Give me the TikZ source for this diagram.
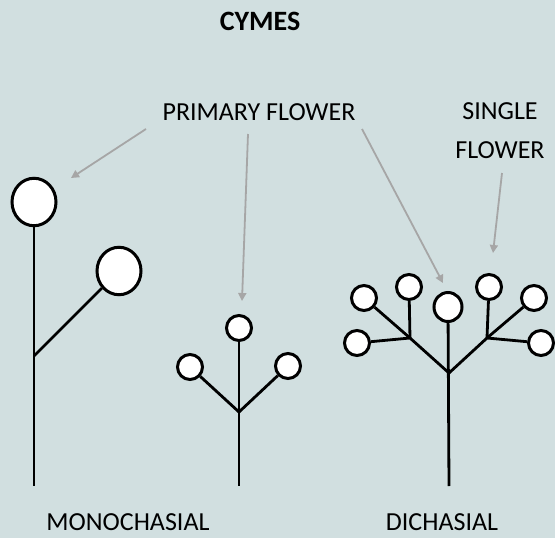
\documentclass[tikz,border=0pt]{standalone}
\usepackage{fontspec}
\setmainfont{Carlito}
\usetikzlibrary{arrows.meta,shapes.geometric}
\definecolor{fundo}{RGB}{209,223,224}
\definecolor{cinza}{RGB}{166,166,166}

\begin{document}
\begin{tikzpicture}[
	x=1pt, y=-1pt,
	txt/.style={inner sep=0pt, font=\fontsize{26}{30}\selectfont},
	flower/.style={draw, ellipse, fill=white, line width=3pt, inner sep=0pt},
	big/.style={minimum width=44pt, minimum height=47.5pt},
	mid/.style={minimum width=28pt, minimum height=29pt},
	small/.style={minimum width=25pt, minimum height=25pt},
	stem/.style={line width=2.8pt},
	seta/.style={-{Triangle[length=8pt,width=8pt]}, cinza, line width=1.8pt}
	]
	\fill[fundo] (0,0) rectangle (555,538);

	\node[txt, font=\fontsize{28}{32}\selectfont\bfseries] (title) at (260,21) {CYMES};
	\node[txt] (primary) at (259,112) {PRIMARY FLOWER};
	\node[txt] (single) at (500,111) {SINGLE};
	\node[txt] (singleb) at (500,150) {FLOWER};
	\node[txt] (mono) at (128,522) {MONOCHASIAL};
	\node[txt] (dich) at (442,522) {DICHASIAL};

	\node[flower, big] (m1) at (34,202) {};
	\node[flower, big] (m2) at (119,271) {};
	\coordinate (mj) at (34,356);
	\coordinate (mb) at (34,486);

	\node[flower, small] (c1) at (239,328) {};
	\node[flower, small] (c2) at (190,367) {};
	\node[flower, small] (c3) at (288,366) {};
	\coordinate (cj) at (239,412);
	\coordinate (cb) at (239,486);

	\node[flower, mid] (d0) at (448,307) {};
	\node[flower, small] (d1) at (364,298) {};
	\node[flower, small] (d2) at (409,287) {};
	\node[flower, small] (d3) at (357,343) {};
	\node[flower, small] (d4) at (489,287) {};
	\node[flower, small] (d5) at (534,298) {};
	\node[flower, small] (d6) at (541,343) {};
	\coordinate (dj) at (449,373);
	\coordinate (dl) at (410,338);
	\coordinate (dr) at (487,338);
	\coordinate (db) at (449,486);

	\coordinate (p1a) at (146,129);
	\coordinate (p1b) at (71,178);
	\coordinate (p2a) at (248,134);
	\coordinate (p2b) at (242,301);
	\coordinate (p3a) at (362,129);
	\coordinate (p3b) at (443,283);
	\coordinate (s1a) at (502,173);
	\coordinate (s1b) at (493,253);

	\draw[stem] (m1) -- (mb);
	\draw[stem] (mj) -- (m2);
	\draw[stem] (c1) -- (cb);
	\draw[stem] (cj) -- (c2);
	\draw[stem] (cj) -- (c3);
	\draw[stem] (d0) -- (db);
	\draw[stem] (d1) -- (dl) -- (dj) -- (dr) -- (d5);
	\draw[stem] (dl) -- (d2);
	\draw[stem] (dl) -- (d3);
	\draw[stem] (dr) -- (d4);
	\draw[stem] (dr) -- (d6);

	\draw[seta] (p1a) -- (p1b);
	\draw[seta] (p2a) -- (p2b);
	\draw[seta] (p3a) -- (p3b);
	\draw[seta] (s1a) -- (s1b);
\end{tikzpicture}
\end{document}
